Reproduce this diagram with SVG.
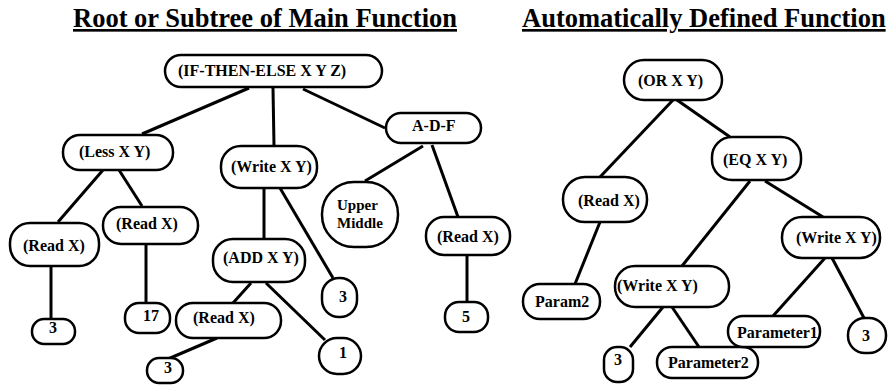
<svg xmlns="http://www.w3.org/2000/svg" width="888" height="385" viewBox="0 0 888 385">
<style>
.bg{fill:#fff}
text{font-family:'Liberation Serif','Times New Roman','DejaVu Serif',serif;font-weight:bold;fill:#000}
.title{font-size:26.5px;text-decoration:underline}
.n rect{fill:#fff;stroke:#000;stroke-width:2.5}
.n text{font-size:16px}
.n text.s{font-size:15px}
.c{text-anchor:middle}
#connectors line{stroke:#000;stroke-width:3;stroke-linecap:butt}
</style>
<rect class="bg" x="0" y="0" width="888" height="385"/>
<text class="title" x="73" y="27">Root or Subtree of Main Function</text>
<text class="title" x="522" y="27">Automatically Defined Function</text>
<g id="connectors">
<line x1="249" y1="88" x2="142" y2="134"/>
<line x1="273" y1="88" x2="274" y2="146"/>
<line x1="303" y1="89" x2="385" y2="128"/>
<line x1="103" y1="170" x2="58" y2="222"/>
<line x1="119" y1="170" x2="142" y2="206"/>
<line x1="51" y1="266" x2="51" y2="319"/>
<line x1="146" y1="244" x2="146" y2="303"/>
<line x1="264" y1="188" x2="264" y2="239"/>
<line x1="280" y1="188" x2="333" y2="278"/>
<line x1="251" y1="283" x2="233" y2="303"/>
<line x1="266" y1="283" x2="325" y2="340"/>
<line x1="217" y1="338" x2="168" y2="359"/>
<line x1="423" y1="146" x2="365" y2="181"/>
<line x1="432" y1="145" x2="458" y2="217"/>
<line x1="467" y1="255" x2="467" y2="302"/>
<line x1="673" y1="100" x2="600" y2="177"/>
<line x1="677" y1="100" x2="730" y2="137"/>
<line x1="600" y1="222" x2="575" y2="284"/>
<line x1="750" y1="181" x2="682" y2="266"/>
<line x1="765" y1="181" x2="823" y2="217"/>
<line x1="825" y1="258" x2="773" y2="316"/>
<line x1="832" y1="258" x2="864" y2="318"/>
<line x1="663" y1="307" x2="630" y2="347"/>
<line x1="672" y1="307" x2="699" y2="347"/>
</g>
<g id="n-root" class="n"><rect x="165" y="55" width="217" height="32" rx="16"/><text x="178" y="76">(IF-THEN-ELSE X Y Z)</text></g>
<g id="n-less" class="n"><rect x="63" y="135" width="110" height="35" rx="17"/><text x="79" y="157">(Less X Y)</text></g>
<g id="n-write-main" class="n"><rect x="221" y="146" width="96" height="42" rx="20"/><text x="231" y="172">(Write X Y)</text></g>
<g id="n-adf" class="n"><rect x="386" y="113" width="95" height="30" rx="15"/><text x="412" y="131">A-D-F</text></g>
<g id="n-read1" class="n"><rect x="10" y="223" width="89" height="43" rx="20"/><text x="23" y="251">(Read X)</text></g>
<g id="n-read2" class="n"><rect x="103" y="207" width="95" height="37" rx="18"/><text x="116" y="229">(Read X)</text></g>
<g id="n-three1" class="n"><rect x="32" y="319" width="43" height="25" rx="12"/><text class="c" x="53" y="333">3</text></g>
<g id="n-seventeen" class="n"><rect x="125" y="303" width="45" height="30" rx="14"/><text class="c" x="151" y="321">17</text></g>
<g id="n-add" class="n"><rect x="213" y="239" width="92" height="43" rx="20"/><text x="223" y="263">(ADD X Y)</text></g>
<g id="n-three2" class="n"><rect x="322" y="278" width="35" height="39" rx="17"/><text class="c" x="343" y="302">3</text></g>
<g id="n-read3" class="n"><rect x="176" y="303" width="105" height="35" rx="17"/><text x="193" y="323">(Read X)</text></g>
<g id="n-one" class="n"><rect x="319" y="338" width="42" height="36" rx="18"/><text class="c" x="343" y="358">1</text></g>
<g id="n-three3" class="n"><rect x="147" y="358" width="36" height="25" rx="12"/><text class="c" x="168" y="373">3</text></g>
<g id="n-upper" class="n"><rect x="322" y="182" width="76" height="65" rx="32"/><text class="s" x="337" y="210">Upper</text><text class="s" x="337" y="228">Middle</text></g>
<g id="n-read4" class="n"><rect x="426" y="217" width="84" height="38" rx="18"/><text x="437" y="242">(Read X)</text></g>
<g id="n-five" class="n"><rect x="445" y="302" width="43" height="30" rx="14"/><text class="c" x="466" y="322">5</text></g>
<g id="n-or" class="n"><rect x="624" y="60" width="98" height="40" rx="20"/><text x="638" y="86">(OR X Y)</text></g>
<g id="n-eq" class="n"><rect x="712" y="137" width="89" height="43" rx="20"/><text x="723" y="165">(EQ X Y)</text></g>
<g id="n-read-adf" class="n"><rect x="563" y="177" width="84" height="45" rx="22"/><text x="578" y="206">(Read X)</text></g>
<g id="n-write-r1" class="n"><rect x="782" y="217" width="98" height="41" rx="20"/><text x="796" y="243">(Write X Y)</text></g>
<g id="n-write-r2" class="n"><rect x="615" y="266" width="114" height="41" rx="20"/><text x="617" y="291">(Write X Y)</text></g>
<g id="n-param2" class="n"><rect x="523" y="284" width="77" height="35" rx="17"/><text x="535" y="307">Param2</text></g>
<g id="n-parameter2" class="n"><rect x="657" y="347" width="101" height="31" rx="15"/><text x="668" y="368">Parameter2</text></g>
<g id="n-parameter1" class="n"><rect x="728" y="316" width="92" height="31" rx="15"/><text x="737" y="338">Parameter1</text></g>
<g id="n-three-r1" class="n"><rect x="848" y="318" width="38" height="35" rx="17"/><text class="c" x="866" y="341">3</text></g>
<g id="n-three-r2" class="n"><rect x="604" y="347" width="29" height="35" rx="13"/><text class="c" x="618" y="365">3</text></g>
</svg>
